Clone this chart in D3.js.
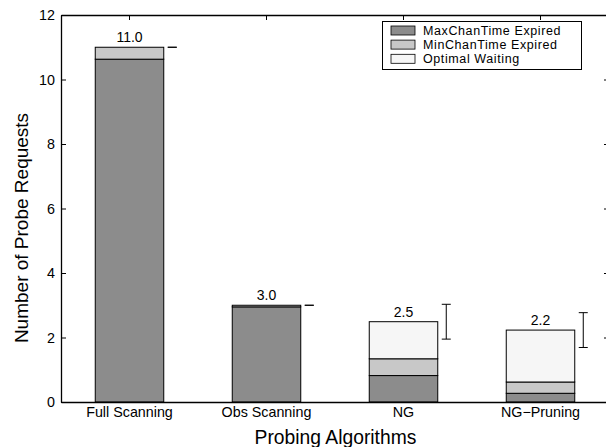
<!DOCTYPE html>
<html>
<head>
<meta charset="utf-8">
<script src="https://cdn.jsdelivr.net/npm/d3@7"></script>
<style>
  html, body { margin: 0; padding: 0; background: #fff; }
  svg { display: block; font-family: "Liberation Sans", Arial, Helvetica, sans-serif; }
</style>
</head>
<body>
<svg id="chart" width="606" height="447"></svg>
<script>
const categories = ["Full Scanning", "Obs Scanning", "NG", "NG\u2212Pruning"];
const maxChanExpired = [10.63, 2.95, 0.82, 0.27];
const minChanExpired = [0.37, 0.05, 0.52, 0.35];
const optimalWaiting = [0, 0, 1.15, 1.61];
const errorHalf = [0, 0, 0.54, 0.54];
const totalLabels = ["11.0", "3.0", "2.5", "2.2"];
const seriesNames = ["MaxChanTime Expired", "MinChanTime Expired", "Optimal Waiting"];
const seriesColors = ["#8c8c8c", "#c8c8c8", "#f6f6f6"];
const yTicks = [0, 2, 4, 6, 8, 10, 12];

const svg = d3.select("#chart");
const mLeft = 61, mRight = 609, mTop = 15, mBottom = 402;

const x = d3.scaleBand().domain(categories).range([mLeft, mRight]).paddingInner(0.5).paddingOuter(0.25);
const y = d3.scaleLinear().domain([0, 12]).range([mBottom, mTop]);

const rows = categories.map((c, i) => ({
  cat: c,
  s0: maxChanExpired[i], s1: minChanExpired[i], s2: optimalWaiting[i],
  err: errorHalf[i], label: totalLabels[i]
}));
const stack = d3.stack().keys(["s0", "s1", "s2"]);
const layers = stack(rows);

// bars
layers.forEach((layer, k) => {
  svg.append("g").selectAll("rect").data(layer.filter(d => d[1] - d[0] > 0)).join("rect")
    .attr("x", d => x(d.data.cat))
    .attr("width", x.bandwidth())
    .attr("y", d => y(d[1]))
    .attr("height", d => y(d[0]) - y(d[1]))
    .attr("fill", seriesColors[k])
    .attr("stroke", "#000")
    .attr("stroke-width", 1);
});

const totals = rows.map(r => r.s0 + r.s1 + r.s2);

// value labels
svg.append("g").selectAll("text").data(rows).join("text")
  .attr("x", d => x(d.cat) + x.bandwidth() / 2)
  .attr("y", (d, i) => y(totals[i]) - 5)
  .attr("text-anchor", "middle")
  .attr("font-size", 14)
  .text(d => d.label);

// error bars
const eg = svg.append("g").attr("stroke", "#000").attr("stroke-width", 1);
rows.forEach((d, i) => {
  const ex = x(d.cat) + x.bandwidth() + 8.5;
  const y1 = y(totals[i] + d.err), y2 = y(totals[i] - d.err);
  if (d.err > 0) {
    eg.append("line").attr("x1", ex).attr("x2", ex).attr("y1", y1).attr("y2", y2);
  }
  eg.append("line").attr("x1", ex - 4.5).attr("x2", ex + 4.5).attr("y1", y1).attr("y2", y1);
  eg.append("line").attr("x1", ex - 4.5).attr("x2", ex + 4.5).attr("y1", y2).attr("y2", y2);
});

// axes
const axL = svg.append("g").attr("transform", `translate(${mLeft},0)`)
  .call(d3.axisLeft(y).tickValues(yTicks).tickFormat(d3.format("d")).tickSizeInner(-5).tickSizeOuter(0).tickPadding(6));
const axR = svg.append("g").attr("transform", `translate(${mRight},0)`)
  .call(d3.axisRight(y).tickValues(yTicks).tickFormat("").tickSizeInner(-5).tickSizeOuter(0));
const axT = svg.append("g").attr("transform", `translate(0,${mTop})`)
  .call(d3.axisTop(x).tickFormat("").tickSizeInner(-5).tickSizeOuter(0));
const axB = svg.append("g").attr("transform", `translate(0,${mBottom})`)
  .call(d3.axisBottom(x).tickSizeInner(-5).tickSizeOuter(0).tickPadding(5));
[axL, axR, axT, axB].forEach(a => {
  a.selectAll("path").attr("stroke", "#000").attr("stroke-width", 1.3);
  a.selectAll("line").attr("stroke", "#000");
  a.selectAll("text").attr("fill", "#000").attr("font-size", 14.3)
    .attr("font-family", "'Liberation Sans', Arial, sans-serif");
});
axB.raise(); axL.raise();
axB.selectAll(".tick line").remove();

// axis titles
svg.append("text")
  .attr("x", 335.5).attr("y", 444)
  .attr("text-anchor", "middle").attr("font-size", 19.3)
  .text("Probing Algorithms");
svg.append("text")
  .attr("transform", `translate(28, 228) rotate(-90)`)
  .attr("text-anchor", "middle").attr("font-size", 19)
  .text("Number of Probe Requests");

// legend
const lg = svg.append("g");
lg.append("rect").attr("x", 382.5).attr("y", 21.5).attr("width", 199).attr("height", 48)
  .attr("fill", "#fff").attr("stroke", "#000").attr("stroke-width", 1);
const rowY = [30.5, 44.6, 58.8];
seriesNames.forEach((n, k) => {
  lg.append("rect").attr("x", 391).attr("y", rowY[k] - 4.5).attr("width", 24).attr("height", 9)
    .attr("fill", seriesColors[k]).attr("stroke", "#000").attr("stroke-width", 0.8);
  lg.append("text").attr("x", 423).attr("y", rowY[k] + 4.6).attr("font-size", 12.5)
    .attr("letter-spacing", 0.6).text(n);
});
</script>
</body>
</html>
